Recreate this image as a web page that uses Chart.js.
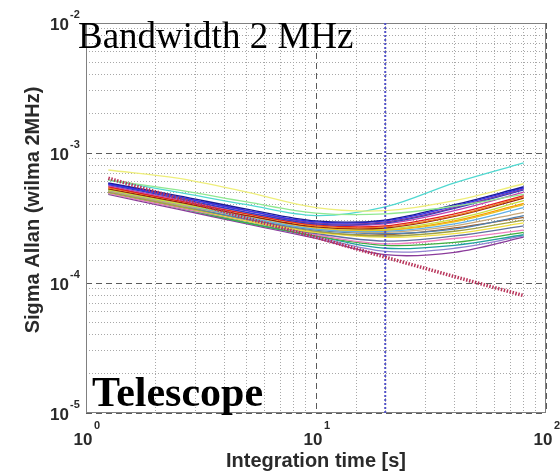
<!DOCTYPE html>
<html>
<head>
<meta charset="utf-8">
<script src="https://cdn.jsdelivr.net/npm/chart.js@4/dist/chart.umd.min.js"></script>
<style>
  html, body { margin: 0; padding: 0; background: #ffffff; }
  canvas { display: block; }
</style>
</head>
<body>
<canvas id="c" width="560" height="471"></canvas>
<script>
// ---------- data ----------
const integrationTimes = [1.25, 2.5, 5, 10, 20, 40, 80];           // s
const xTickValues = [1, 10, 100];
const yTickValues = [1e-2, 1e-3, 1e-4, 1e-5];

// Allan sigma per receiver, units of 1e-4
const seriesValues = [
  [7.4, 6.4, 5.0, 3.8, 3.6, 4.3, 5.8],
  [6.2, 5.2, 4.2, 3.45, 3.4, 3.9, 4.8],
  [6.2, 5.0, 4.0, 3.3, 3.85, 5.9, 8.4],
  [5.9, 4.7, 3.7, 3.0, 3.05, 4.0, 5.5],
  [5.8, 4.6, 3.6, 2.95, 3.0, 3.9, 5.4],
  [5.8, 4.6, 3.6, 2.9, 2.95, 3.8, 5.3],
  [5.7, 4.5, 3.5, 2.85, 2.9, 3.75, 5.2],
  [5.6, 4.4, 3.5, 2.85, 2.85, 3.6, 5.0],
  [5.5, 4.3, 3.4, 2.8, 2.75, 3.4, 4.7],
  [5.4, 4.3, 3.4, 2.75, 2.7, 3.3, 4.6],
  [5.3, 4.2, 3.3, 2.7, 2.65, 3.25, 4.5],
  [5.2, 4.1, 3.3, 2.7, 2.6, 3.1, 4.3],
  [5.3, 4.2, 3.3, 2.65, 2.55, 2.95, 4.0],
  [5.2, 4.1, 3.2, 2.6, 2.5, 2.85, 3.8],
  [5.1, 4.0, 3.2, 2.6, 2.45, 2.75, 3.5],
  [5.1, 4.0, 3.1, 2.55, 2.4, 2.6, 3.3],
  [5.0, 3.9, 3.1, 2.5, 2.3, 2.5, 3.05],
  [5.0, 3.9, 3.0, 2.45, 2.25, 2.4, 2.9],
  [5.0, 3.9, 3.0, 2.4, 2.1, 2.3, 2.75],
  [4.9, 3.8, 3.0, 2.35, 2.0, 2.2, 2.55],
  [4.9, 3.8, 2.9, 2.3, 1.95, 2.05, 2.45],
  [4.9, 3.8, 2.9, 2.3, 1.85, 1.95, 2.35],
  [4.9, 3.8, 2.9, 2.25, 1.75, 1.85, 2.3],
  [4.8, 3.7, 2.85, 2.2, 1.65, 1.72, 2.25],
  [5.2, 4.1, 3.2, 2.6, 2.55, 3.0, 4.1],
  [5.0, 3.9, 3.0, 2.45, 2.35, 2.65, 3.2]
];
// theoretical radiometer line, units of 1e-4
const theoryValues = [6.4, 4.5, 3.15, 2.25, 1.58, 1.12, 0.80];
const markerTime = 20;   // s, vertical marker
const valueScale = 1e-4;

// ---------- styles ----------
const seriesColors = [
  '#eeee7a', '#90e890', '#50d8d0', '#1a1a9a', '#3333ee', '#7a3aa0',
  '#2a40c0', '#c040b0', '#e02020', '#f08020', '#902010', '#c8e040',
  '#e8c020', '#60b0e8', '#c8a878', '#5080b0', '#a0a040', '#f0e040',
  '#6070a0', '#f080c0', '#40b040', '#20a0a0', '#9080d0', '#8a3a9a',
  '#ff9900', '#a06030'
];

const isMajor = v => { const l = Math.log10(v); return Math.abs(l - Math.round(l)) < 1e-6; };

const datasets = [];
datasets.push({
  data: integrationTimes.map((t, i) => ({x: t, y: theoryValues[i] * valueScale})),
  borderColor: '#b8345a', borderWidth: 3.5, borderDash: [1.5, 1.5], tension: 0
});
datasets.push({
  data: [{x: markerTime, y: 1e-5}, {x: markerTime, y: 1e-2}],
  borderColor: '#5050c8', borderWidth: 2, borderDash: [2, 2], tension: 0
});
seriesValues.forEach((vals, k) => {
  datasets.push({
    data: integrationTimes.map((t, i) => ({x: t, y: vals[i] * valueScale})),
    borderColor: seriesColors[k % seriesColors.length],
    borderWidth: 1.3,
    tension: 0.35
  });
});

const FONT = '"Liberation Sans", Arial, sans-serif';

const decor = {
  id: 'decor',
  beforeDatasetsDraw(chart) {
    const {ctx, chartArea: a} = chart;
    ctx.save();
    ctx.strokeStyle = '#808080';
    ctx.lineWidth = 1;
    ctx.strokeRect(a.left + 0.5, a.top + 0.5, a.right - a.left - 1, a.bottom - a.top - 1);
    ctx.restore();
  },
  afterDraw(chart) {
    const {ctx, scales} = chart;
    const xs = scales.x, ys = scales.y;
    ctx.save();
    ctx.fillStyle = '#2a2a2a';
    // y tick labels
    yTickValues.forEach(v => {
      const py = ys.getPixelForValue(v);
      const e = Math.round(Math.log10(v));
      ctx.font = 'bold 17px ' + FONT;
      ctx.textAlign = 'right'; ctx.textBaseline = 'middle';
      ctx.fillText('10', 69, py + 2);
      ctx.font = 'bold 11px ' + FONT;
      ctx.textAlign = 'left'; ctx.textBaseline = 'alphabetic';
      ctx.fillText(String(e), 70, py - 5);
    });
    // x tick labels
    xTickValues.forEach(v => {
      const px = xs.getPixelForValue(v);
      const e = Math.round(Math.log10(v));
      ctx.font = 'bold 17px ' + FONT;
      ctx.textAlign = 'center'; ctx.textBaseline = 'middle';
      ctx.fillText('10', px - 3, 440);
      ctx.font = 'bold 11px ' + FONT;
      ctx.textAlign = 'left'; ctx.textBaseline = 'alphabetic';
      ctx.fillText(String(e), px + 8, 429);
    });
    // axis titles
    ctx.font = 'bold 20px ' + FONT;
    ctx.textAlign = 'center'; ctx.textBaseline = 'middle';
    ctx.fillText('Integration time [s]', (xs.left + xs.right) / 2, 461);
    ctx.save();
    ctx.translate(33, 210);
    ctx.rotate(-Math.PI / 2);
    ctx.fillText('Sigma Allan (wilma 2MHz)', 0, 0);
    ctx.restore();
    // annotations
    ctx.fillStyle = '#000000';
    ctx.textAlign = 'left'; ctx.textBaseline = 'alphabetic';
    ctx.font = '37px "Liberation Serif", "Times New Roman", serif';
    ctx.fillText('Bandwidth 2 MHz', 78, 48);
    ctx.font = 'bold 42px "Liberation Serif", "Times New Roman", serif';
    ctx.fillText('Telescope', 92, 406);
    ctx.restore();
  }
};

new Chart(document.getElementById('c'), {
  type: 'line',
  data: { datasets },
  plugins: [decor],
  options: {
    responsive: false,
    animation: false,
    events: [],
    layout: { padding: { left: 86, top: 23, right: 14, bottom: 58 } },
    plugins: { legend: { display: false }, tooltip: { enabled: false } },
    elements: { point: { radius: 0 } },
    scales: {
      x: {
        type: 'logarithmic', min: 1, max: 100,
        ticks: { display: false },
        grid: {
          drawTicks: false, lineWidth: 1,
          color: c => isMajor(c.tick.value) ? '#5a5a5a' : '#a8a8a8'
        },
        border: { display: false, dash: c => (c.tick && isMajor(c.tick.value)) ? [6, 4] : [1, 2] }
      },
      y: {
        type: 'logarithmic', min: 1e-5, max: 1e-2,
        ticks: { display: false },
        grid: {
          drawTicks: false, lineWidth: 1,
          color: c => isMajor(c.tick.value) ? '#5a5a5a' : '#a8a8a8'
        },
        border: { display: false, dash: c => (c.tick && isMajor(c.tick.value)) ? [6, 4] : [1, 2] }
      }
    }
  }
});
</script>
</body>
</html>
